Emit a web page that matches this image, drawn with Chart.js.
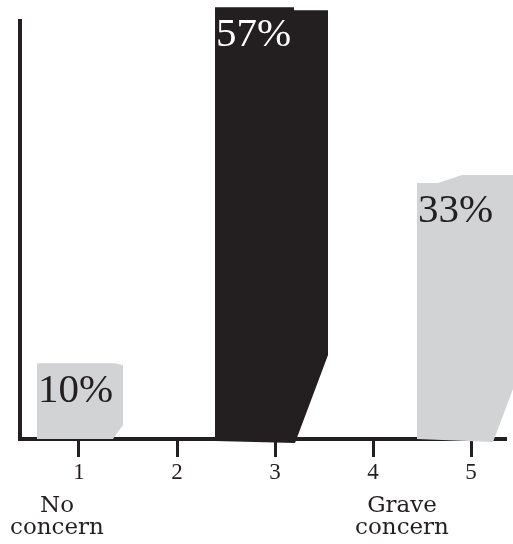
<!DOCTYPE html>
<html>
<head>
<meta charset="utf-8">
<script src="https://cdn.jsdelivr.net/npm/chart.js@4/dist/chart.umd.min.js"></script>
<style>
html,body{margin:0;padding:0;background:#ffffff;}
#wrap{width:513px;height:544px;overflow:hidden;}
canvas{display:block;}
</style>
</head>
<body>
<div id="wrap"><canvas id="c" width="513" height="544"></canvas></div>
<script>
// ---- data ----
const categories = ['1', '2', '3', '4', '5'];
const values = [10, 0, 57, 0, 33];
const valueLabels = ['10%', '', '57%', '', '33%'];
const noteCategories = ['1', '4'];
const noteLines = [['No', 'concern'], ['Grave', 'concern']];

// ---- styles ----
const INK = '#231f20';
const GRAY = '#d1d3d4';
const barFill = [GRAY, GRAY, INK, GRAY, GRAY];
const labelColor = [INK, INK, '#ffffff', INK, INK];
// hand-cut bar outlines: [dx from bar centre, 't' (value top) | 'b' (base), dy]
const barShapes = [
  [[-42,'t',0],[36,'t',0],[44,'t',2],[44,'b',-14],[34,'b',0],[-42,'b',0]],
  [],
  [[-60,'t',0],[19,'t',0],[19,'t',3],[53,'t',3],[53,'b',-84],[20,'b',4],[-60,'b',2]],
  [],
  [[-54,'t',-6],[-33,'t',-6],[-9,'t',-14],[48,'t',-14],[48,'b',-66],[22,'b',3],[-54,'b',0]]
];
const noteDx = [-22, 29];

const shapePlugin = {
  id: 'shapes',
  afterDatasetsDraw(chart) {
    const ctx = chart.ctx;
    const meta = chart.getDatasetMeta(0);
    meta.data.forEach((el, i) => {
      if (!values[i]) return;
      const p = el.getProps(['x', 'y', 'base'], true);
      const pts = barShapes[i].map(([dx, ref, dy]) => [p.x + dx, (ref === 't' ? p.y : p.base) + dy]);
      ctx.save();
      ctx.fillStyle = barFill[i];
      ctx.beginPath();
      pts.forEach(([px, py], k) => (k ? ctx.lineTo(px, py) : ctx.moveTo(px, py)));
      ctx.closePath();
      ctx.fill();
      ctx.fillStyle = labelColor[i];
      ctx.font = '41px "Liberation Serif"';
      ctx.textBaseline = 'alphabetic';
      ctx.textAlign = 'left';
      ctx.fillText(valueLabels[i], pts[0][0] + 1, pts[0][1] + 39);
      ctx.restore();
    });
  },
  afterDraw(chart) {
    const ctx = chart.ctx;
    const xs = chart.scales.x;
    const bottom = chart.chartArea.bottom;
    ctx.save();
    ctx.fillStyle = INK;
    ctx.font = '23px "DejaVu Serif"';
    ctx.textAlign = 'center';
    ctx.textBaseline = 'alphabetic';
    noteCategories.forEach((c, j) => {
      const cx = xs.getPixelForValue(Number(c)) + noteDx[j];
      noteLines[j].forEach((line, k) => {
        ctx.fillText(line, cx, bottom + 73 + k * 22);
      });
    });
    ctx.restore();
  }
};

new Chart(document.getElementById('c').getContext('2d'), {
  type: 'bar',
  data: {
    datasets: [{
      data: categories.map((c, i) => ({ x: Number(c), y: values[i] })),
      backgroundColor: 'rgba(0,0,0,0)',
      borderWidth: 0,
      barThickness: 90
    }]
  },
  options: {
    responsive: false,
    animation: false,
    devicePixelRatio: 1,
    layout: { padding: { left: 20, right: 7, top: 21, bottom: 0 } },
    plugins: { legend: { display: false }, tooltip: { enabled: false } },
    scales: {
      x: {
        type: 'linear',
        offset: false,
        min: 0.398,
        max: 5.357,
        z: 1,
        afterBuildTicks: s => { s.ticks = categories.map(c => ({ value: Number(c) })); },
        afterFit: s => { s.height = 105; },
        ticks: {
          callback: (v, idx) => categories[idx],
          font: { family: 'Liberation Serif', size: 23 },
          color: INK,
          padding: 2,
          autoSkip: false,
          maxRotation: 0
        },
        grid: { display: true, offset: false, drawOnChartArea: false, drawTicks: true, tickLength: 18, tickWidth: 3, tickColor: INK },
        border: { display: true, width: 4, color: INK }
      },
      y: {
        min: 0,
        max: 55.2,
        z: 1,
        ticks: { display: false },
        grid: { display: false },
        border: { display: true, width: 4, color: INK },
        afterFit: s => { s.width = 0; }
      }
    }
  },
  plugins: [shapePlugin]
});
</script>
</body>
</html>
